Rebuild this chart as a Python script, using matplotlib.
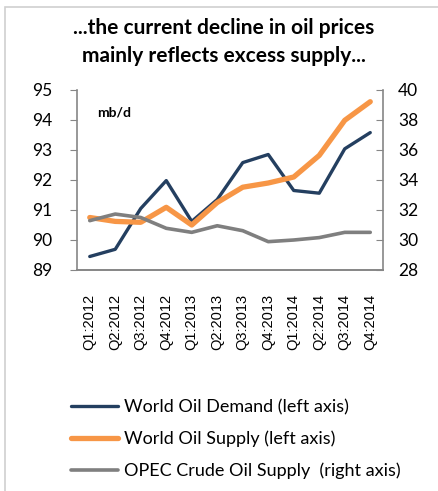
import matplotlib.pyplot as plt
from matplotlib.patches import Rectangle

quarters = ['Q1:2012', 'Q2:2012', 'Q3:2012', 'Q4:2012',
            'Q1:2013', 'Q2:2013', 'Q3:2013', 'Q4:2013',
            'Q1:2014', 'Q2:2014', 'Q3:2014', 'Q4:2014']
demand = [89.45, 89.69, 91.05, 91.98, 90.62, 91.35, 92.58, 92.85, 91.65, 91.56, 93.04, 93.58]
supply = [90.75, 90.62, 90.59, 91.09, 90.50, 91.25, 91.76, 91.90, 92.10, 92.82, 93.99, 94.61]
opec = [31.29, 31.73, 31.50, 30.78, 30.51, 30.95, 30.62, 29.89, 30.00, 30.16, 30.51, 30.51]

NAVY = '#243f60'
ORANGE = '#f79646'
GREY = '#7f7f7f'
AXIS = '#868686'

plt.rcParams['font.family'] = ['Lato', 'DejaVu Sans']

fig = plt.figure(figsize=(4.39, 4.91), dpi=100)
fig.patches.append(Rectangle((5 / 439, -0.1), 1.2, 1 - 7 / 491 + 0.1,
                             transform=fig.transFigure, fill=False,
                             edgecolor='#d0d0d0', linewidth=1.2))

fig.text(0.51, 1 - 28 / 491, '...the current decline in oil prices',
         ha='center', va='center', fontsize=15, fontweight='bold')
fig.text(0.51, 1 - 56 / 491, 'mainly reflects excess supply...',
         ha='center', va='center', fontsize=15, fontweight='bold')

ax = fig.add_axes([77 / 439, 1 - 270 / 491, (383 - 77) / 439, 180 / 491])
ax2 = ax.twinx()

x = range(len(quarters))
l1, = ax.plot(x, demand, color=NAVY, lw=2.4, solid_capstyle='round')
l2, = ax.plot(x, supply, color=ORANGE, lw=3.8, solid_capstyle='round')
l3, = ax2.plot(x, opec, color=GREY, lw=2.6, solid_capstyle='round')

ax.set_xlim(-0.5, len(quarters) - 0.5)
ax.set_ylim(89, 95)
ax.set_yticks(range(89, 96))
ax2.set_ylim(28, 40)
ax2.set_yticks(range(28, 41, 2))

ax.set_xticks(list(x))
ax.set_xticklabels(quarters, rotation=90, fontsize=10.5, family='Liberation Sans')
ax.tick_params(axis='x', length=0, pad=17)
ax.tick_params(axis='y', length=5, color=AXIS, labelsize=12.5, pad=13)
ax2.tick_params(axis='y', direction='in', length=5, color=AXIS,
                labelsize=12.5, pad=11)

for a in (ax, ax2):
    a.spines['top'].set_visible(False)
    for s in ('left', 'right', 'bottom'):
        a.spines[s].set_color(AXIS)
        a.spines[s].set_linewidth(1.2)
ax.spines['right'].set_visible(False)
ax2.spines['left'].set_visible(False)

ax.text(0.065, 0.875, 'mb/d', transform=ax.transAxes, fontsize=10,
        fontweight='bold', va='center')

fig.legend([l1, l2, l3],
           ['World Oil Demand (left axis)', 'World Oil Supply (left axis)',
            'OPEC Crude Oil Supply  (right axis)'],
           loc='upper left', bbox_to_anchor=(62 / 439, 1 - 390 / 491),
           frameon=False, fontsize=13, handlelength=2.6, handletextpad=0.35,
           labelspacing=0.85, borderpad=0)

fig.savefig('out.png', dpi=100)
